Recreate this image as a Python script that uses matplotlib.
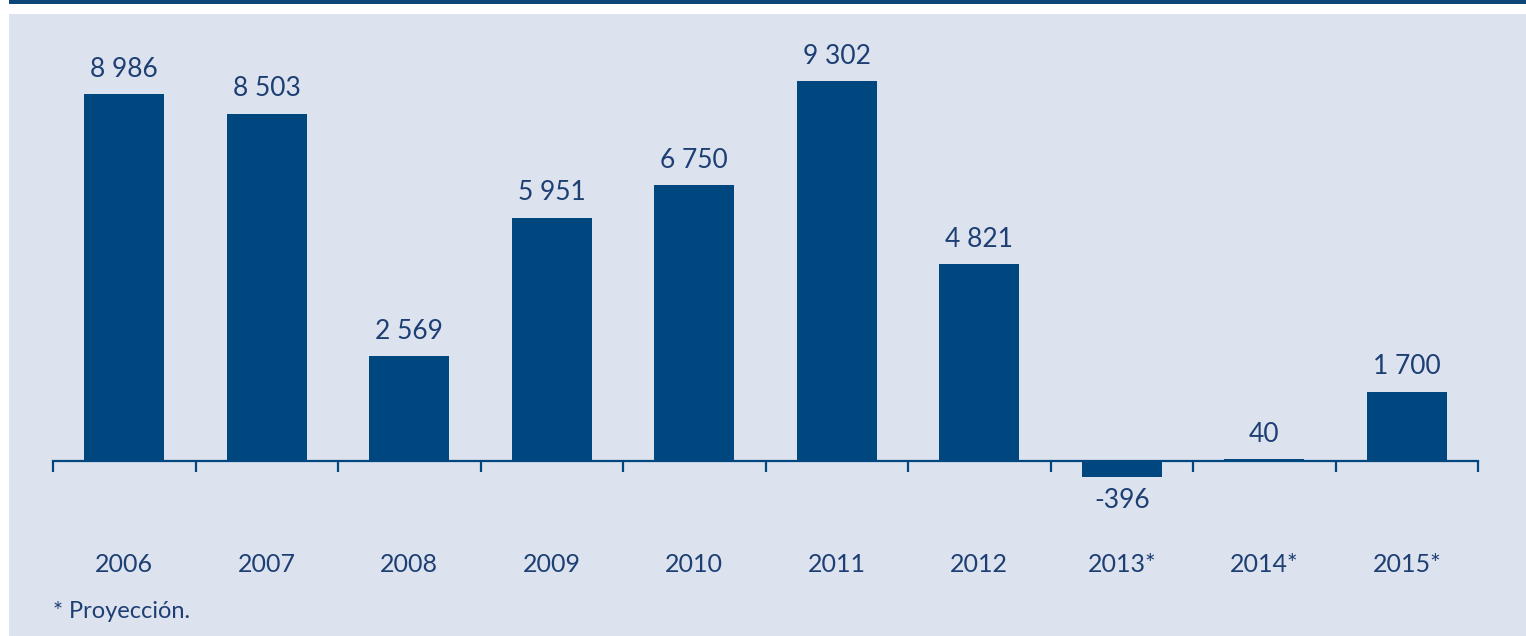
import matplotlib
matplotlib.use('Agg')
import matplotlib.pyplot as plt
from matplotlib import font_manager
from matplotlib.patches import Rectangle

# Data
years = ['2006', '2007', '2008', '2009', '2010', '2011', '2012', '2013*', '2014*', '2015*']
values = [8986, 8503, 2569, 5951, 6750, 9302, 4821, -396, 40, 1700]
value_labels = ['8 986', '8 503', '2 569', '5 951', '6 750', '9 302', '4 821', '-396', '40', '1 700']
note = '* Proyección.'

# pick a narrow font if one is there
available = {f.name for f in font_manager.fontManager.ttflist}
font = 'DejaVu Sans'
for name in ['Liberation Sans Narrow', 'Lato', 'Open Sans']:
    if name in available:
        font = name
        break
plt.rcParams['font.family'] = [font, 'DejaVu Sans']

bar_color = '#00467f'
bg_color = '#dce2ee'
text_color = '#1d3f73'

W, H = 1526, 636
fig = plt.figure(figsize=(W / 100, H / 100), dpi=100, facecolor='white')

# background panel and top strip
fig.patches.append(Rectangle((9 / W, 0), 1 - 9 / W, 1 - 14 / H, transform=fig.transFigure,
                             facecolor=bg_color, edgecolor='none', zorder=-2))
fig.patches.append(Rectangle((9 / W, 1 - 4 / H), 1 - 9 / W, 4 / H, transform=fig.transFigure,
                             facecolor='#0b4677', edgecolor='none', zorder=-2))

ax = fig.add_axes([53 / W, 1 - 500 / H, 1425 / W, 460 / H])
ax.set_facecolor('none')
ax.set_zorder(1)

x = list(range(len(years)))
bars = ax.bar(x, values, width=0.56, color=bar_color, zorder=2)

ax.set_xlim(-0.5, len(years) - 0.5)
ax.set_ylim(-955, 10309)

for s in ['top', 'right', 'left']:
    ax.spines[s].set_visible(False)
ax.spines['bottom'].set_position(('data', 0))
ax.spines['bottom'].set_color(bar_color)
ax.spines['bottom'].set_linewidth(1.6)
ax.set_yticks([])

ax.set_xticks(x)
ax.set_xticklabels(years, fontsize=18, color=text_color)
ax.tick_params(axis='x', which='major', length=0, pad=66)
ax.set_xticks([i - 0.5 for i in range(len(years) + 1)], minor=True)
ax.tick_params(axis='x', which='minor', length=8, width=1.6, color=bar_color, direction='out')

for b, v, lab in zip(bars, values, value_labels):
    if v >= 0:
        ax.annotate(lab, (b.get_x() + b.get_width() / 2, v), xytext=(0, 9),
                    textcoords='offset points', ha='center', va='bottom',
                    fontsize=19, color=text_color)
    else:
        ax.annotate(lab, (b.get_x() + b.get_width() / 2, v), xytext=(0, -8),
                    textcoords='offset points', ha='center', va='top',
                    fontsize=19, color=text_color)

fig.text(53 / W, 1 - 612 / H, note, fontsize=17, color=text_color, ha='left', va='center')

fig.savefig('out.png', dpi=100, facecolor='white')
